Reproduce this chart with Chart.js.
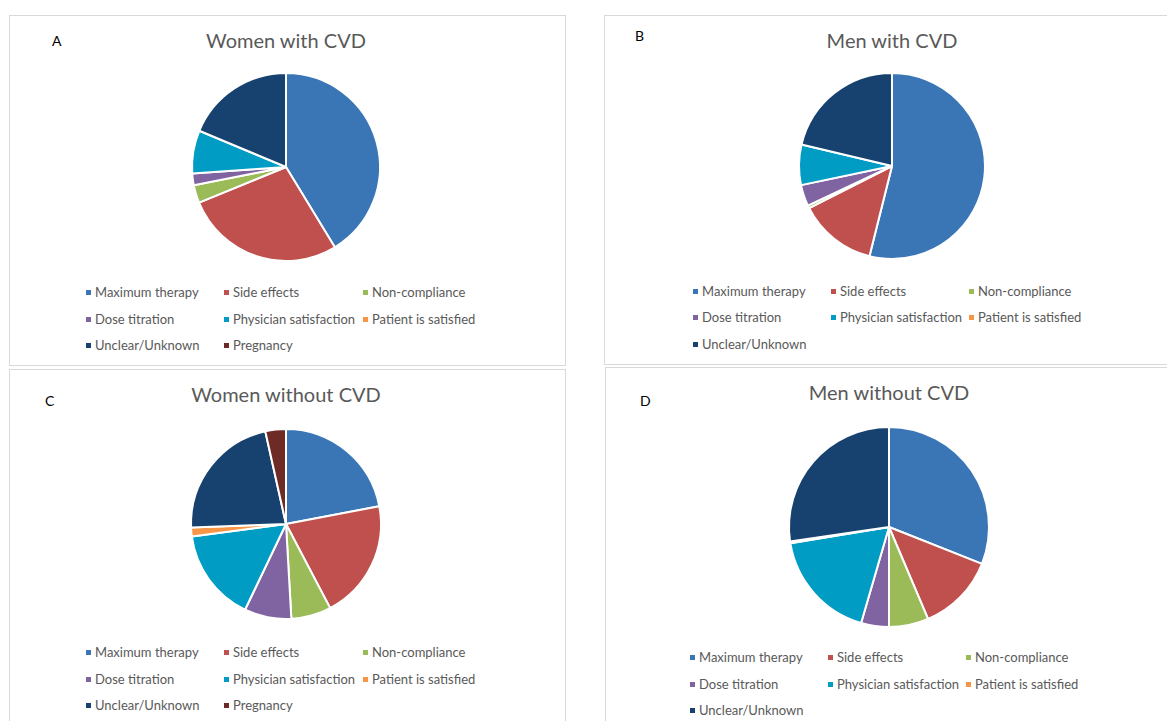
<!DOCTYPE html>
<html>
<head>
<meta charset="utf-8">
<script src="https://cdn.jsdelivr.net/npm/chart.js@4.4.1/dist/chart.umd.min.js"></script>
<style>
  body { margin: 0; background: #fff; font-family: Lato, "Open Sans", sans-serif; }
  #page { position: relative; width: 1167px; height: 721px; overflow: hidden; }
  .panel { position: absolute; border: 1px solid #d9d9d9; background: #fff; box-sizing: border-box; }
  .letter { position: absolute; font-size: 14px; color: #000; }
  .title { position: absolute; font-size: 20px; color: #595959; white-space: nowrap; transform: translate(-50%, -50%); }
  .pie { position: absolute; width: 220px; height: 220px; }
  .leg { position: absolute; font-size: 13px; color: #595959; white-space: nowrap; transform: translateY(-50%); }
  .leg i { position: absolute; left: -9px; top: 50%; width: 5px; height: 5px; margin-top: -2px; }
</style>
</head>
<body>
<div id="page"></div>
<script>
const categories = ["Maximum therapy", "Side effects", "Non-compliance", "Dose titration",
  "Physician satisfaction", "Patient is satisfied", "Unclear/Unknown", "Pregnancy"];
const sliceColors = ["#3a75b6", "#c0504d", "#9bbb59", "#8064a2", "#009cc4", "#f79646", "#17416f", "#6e2b26"];

// shares in %
const womenWithCvd = [41.3, 27.5, 3.1, 2.0, 7.4, 0, 18.7, 0];
const menWithCvd = [53.9, 13.6, 0.5, 3.7, 7.0, 0, 21.3];
const womenWithoutCvd = [22.0, 20.3, 6.8, 8.0, 15.8, 1.5, 22.1, 3.5];
const menWithoutCvd = [31.0, 12.6, 6.4, 4.5, 17.9, 0.3, 27.3];

const titles = ["Women with CVD", "Men with CVD", "Women without CVD", "Men without CVD"];
const letters = ["A", "B", "C", "D"];

const panels = [
  { box: [9, 15, 557, 351], letter: [52, 32], title: [286, 40], c: [286, 167], r: 94,
    legX: [95, 233, 372], legY: [292, 319, 345], data: womenWithCvd },
  { box: [604, 15, 600, 350], letter: [635, 27], title: [892, 40], c: [892, 166], r: 93,
    legX: [702, 840, 978], legY: [291, 317, 344], data: menWithCvd },
  { box: [9, 369, 557, 360], letter: [45, 392], title: [286, 394], c: [286, 524], r: 95,
    legX: [95, 233, 372], legY: [652, 679, 705], data: womenWithoutCvd },
  { box: [605, 367, 600, 360], letter: [640, 392], title: [889, 392], c: [889, 527], r: 100,
    legX: [699, 837, 975], legY: [657, 684, 710], data: menWithoutCvd }
];

const page = document.getElementById("page");

function el(cls, x, y, text) {
  const d = document.createElement("div");
  d.className = cls;
  d.style.left = x + "px";
  d.style.top = y + "px";
  if (text !== undefined) d.textContent = text;
  page.appendChild(d);
  return d;
}

panels.forEach((p, k) => {
  const box = el("panel", p.box[0], p.box[1]);
  box.style.width = p.box[2] + "px";
  box.style.height = p.box[3] + "px";

  el("letter", p.letter[0], p.letter[1], letters[k]);
  el("title", p.title[0], p.title[1], titles[k]);

  const wrap = el("pie", p.c[0] - 110, p.c[1] - 110);
  const cv = document.createElement("canvas");
  wrap.appendChild(cv);

  const n = p.data.length;
  new Chart(cv.getContext("2d"), {
    type: "pie",
    data: {
      labels: categories.slice(0, n),
      datasets: [{
        data: p.data,
        backgroundColor: sliceColors.slice(0, n),
        borderColor: "#ffffff",
        borderWidth: 2,
        radius: p.r
      }]
    },
    options: {
      responsive: true,
      maintainAspectRatio: false,
      animation: false,
      layout: { padding: 0 },
      plugins: { legend: { display: false }, tooltip: { enabled: false } }
    }
  });

  // legend in 3 columns, like the Excel layout
  for (let i = 0; i < n; i++) {
    const item = el("leg", p.legX[i % 3], p.legY[Math.floor(i / 3)], categories[i]);
    const sw = document.createElement("i");
    sw.style.background = sliceColors[i];
    item.appendChild(sw);
  }
});
</script>
</body>
</html>
